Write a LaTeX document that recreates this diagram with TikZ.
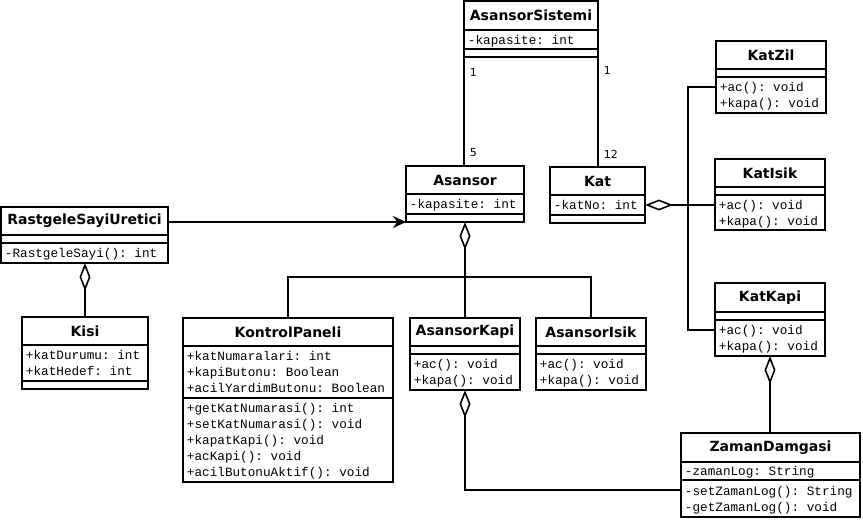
\documentclass[tikz,border=0pt]{standalone}
\usepackage{fontspec}
\setmainfont{DejaVu Sans}
\setmonofont{Liberation Mono}
\usetikzlibrary{arrows.meta}

\begin{document}
\begin{tikzpicture}[x=1pt,y=-1pt,line width=1.8pt,
  box/.style={draw,inner sep=0pt,outer sep=0pt,anchor=north west},
  ttl/.style={font=\bfseries\fontsize{14}{16}\selectfont,inner sep=0pt},
  mem/.style={font=\ttfamily\fontsize{12.7}{15}\selectfont,inner sep=0pt,anchor=base west},
  lbl/.style={font=\fontsize{11}{13}\selectfont,inner sep=1pt,anchor=west},
  agg/.style={{Diamond[open,length=28pt,width=11pt,line width=1.6pt]}-},
  arr/.style={-{Stealth[length=13pt,width=12pt]}}]
\newcommand{\cls}[8]{
\node[box,minimum width=#4pt,minimum height=#5pt] (#1) at (#2,#3) {};
\draw (#2,#3+#6) -- (#2+#4,#3+#6) (#2,#3+#7) -- (#2+#4,#3+#7);
\node[ttl] (#1-t) at (#2+#4/2,#3+#6/2) {#8};
}
\newcommand{\mem}[4]{\foreach \txt [count=\i] in {#4} \node[mem] (#1-\i) at (#2+3,#3+14+16*\i-16) {\txt};}
\useasboundingbox (0,0) rectangle (863,525);

\cls{sis}{464}{1}{134}{56}{29}{48}{AsansorSistemi}
\mem{sis-a}{464}{30}{-kapasite: int}
\cls{asn}{406}{166}{118}{56}{28}{48}{Asansor}
\mem{asn-a}{406}{194}{-kapasite: int}
\cls{kat}{550}{167}{95}{56}{28}{48}{Kat}
\mem{kat-a}{550}{195}{-katNo: int}
\cls{zil}{716}{41}{110}{72}{28}{36}{KatZil}
\mem{zil-m}{716}{77}{+ac(): void, +kapa(): void}
\cls{isk}{715}{159}{110}{71}{28}{36}{KatIsik}
\mem{isk-m}{715}{195}{+ac(): void, +kapa(): void}
\cls{kpi}{715}{283}{110}{73}{29}{37}{KatKapi}
\mem{kpi-m}{715}{320}{+ac(): void, +kapa(): void}
\cls{rsu}{1}{207}{167}{56}{28}{36}{RastgeleSayiUretici}
\mem{rsu-m}{1}{243}{-RastgeleSayi(): int}
\cls{ksi}{22}{317}{126}{72}{28}{64}{Kisi}
\mem{ksi-a}{22}{345}{+katDurumu: int, +katHedef: int}
\cls{kp}{183}{318}{210}{164}{28}{80}{KontrolPaneli}
\mem{kp-a}{183}{346}{+katNumaralari: int, +kapiButonu: Boolean, +acilYardimButonu: Boolean}
\mem{kp-m}{183}{398}{+getKatNumarasi(): int, +setKatNumarasi(): void, +kapatKapi(): void, +acKapi(): void, +acilButonuAktif(): void}
\cls{akp}{410}{318}{110}{72}{28}{36}{AsansorKapi}
\mem{akp-m}{410}{354}{+ac(): void, +kapa(): void}
\cls{ais}{536}{318}{110}{72}{28}{36}{AsansorIsik}
\mem{ais-m}{536}{354}{+ac(): void, +kapa(): void}
\cls{zd}{681}{433}{179}{84}{29}{47}{ZamanDamgasi}
\mem{zd-a}{681}{461}{-zamanLog: String}
\mem{zd-m}{681}{481}{-setZamanLog(): String, -getZamanLog(): void}

\draw (sis.south west) -- (sis.south west |- asn.north);
\draw (sis.south east) -- (sis.south east |- kat.north);
\node[lbl] (m1) at ([shift={(4,15)}]sis.south west) {1};
\node[lbl] (m2) at ([shift={(4,-13)}]sis.south west |- asn.north) {5};
\node[lbl] (m3) at ([shift={(4,13)}]sis.south east) {1};
\node[lbl] (m4) at ([shift={(4,-13)}]sis.south east |- kat.north) {12};

\draw[arr] (rsu.east |- asn.south west) -- (asn.south west);
\draw[agg] (rsu.south -| ksi.north) -- (ksi.north);

\draw[agg] (asn.south) -- ++(0,55) coordinate (bus);
\draw (kp.north) -- (kp.north |- bus) -- (ais.north |- bus) -- (ais.north);
\draw (bus) -- (akp.north);

\coordinate (bx) at (688,0);
\draw[agg] ([yshift=-10pt]kat.east) -- ([yshift=-10pt]kat.east -| isk.west);
\draw ([yshift=-46pt]zil.north west) -- ([yshift=-46pt]zil.north west -| bx) -- ([yshift=-47pt]kpi.north west -| bx) -- ([yshift=-47pt]kpi.north west);

\draw[agg] (kpi.south) -- (kpi.south |- zd.north);
\draw[agg] (akp.south) |- ([yshift=-57pt]zd.north west);
\end{tikzpicture}
\end{document}
